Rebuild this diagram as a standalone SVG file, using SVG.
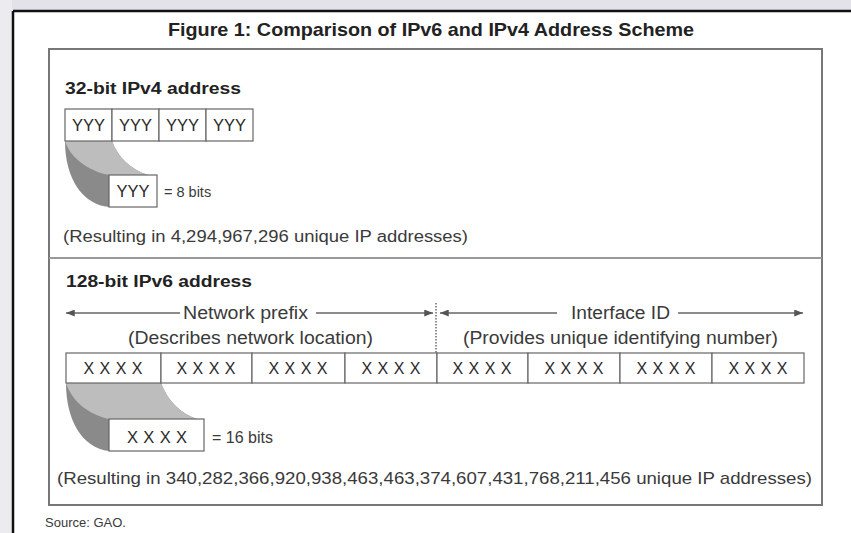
<svg xmlns="http://www.w3.org/2000/svg" width="851" height="533" viewBox="0 0 851 533">
<style>
.t{font-family:"Liberation Sans",Arial,sans-serif;fill:#3a3a3a}
.b{font-family:"Liberation Sans",Arial,sans-serif;font-weight:bold;fill:#222}
.cell{fill:#fff;stroke:#666;stroke-width:1.2}
.ct{font-family:"Liberation Sans",Arial,sans-serif;fill:#2a2a2a;text-anchor:middle}
.ln{stroke:#666;stroke-width:1.5;fill:none}
.dark{fill:#8a8a8a}
.light{fill:#bdbdbd}
</style>
<defs>
<marker id="ah" viewBox="0 0 10 8" refX="10" refY="4" markerWidth="10" markerHeight="7" markerUnits="userSpaceOnUse" orient="auto-start-reverse">
<path d="M0,0 L10,4 L0,8 Z" fill="#555"/>
</marker>
</defs>
<rect width="851" height="533" fill="#fff"/>
<rect x="0" y="0" width="851" height="10" fill="#e2e2e8"/>
<rect x="0" y="0" width="12" height="533" fill="#ececf0"/>
<line x1="13" y1="11" x2="851" y2="11" stroke="#111" stroke-width="2.5"/>
<line x1="13" y1="11" x2="13" y2="533" stroke="#111" stroke-width="2.5"/>
<text class="b" x="431" y="36" font-size="18.5" text-anchor="middle" textLength="526" lengthAdjust="spacingAndGlyphs">Figure 1:  Comparison of IPv6 and IPv4 Address Scheme</text>
<rect x="49" y="49" width="773" height="456" fill="#fff" stroke="#777" stroke-width="2"/>
<line x1="49" y1="258" x2="822" y2="258" stroke="#999" stroke-width="2"/>

<g id="ipv4">
<text class="b" x="65" y="94" font-size="16" textLength="176" lengthAdjust="spacingAndGlyphs">32-bit IPv4 address</text>
<path class="dark" d="M65,141 L112,141 C118,158 132,170 148,175 L109,175 L109,207 C84,205 65,180 65,141 Z"/>
<path class="light" d="M65,141 L112,141 C118,158 132,170 148,175 L109,175 C92,172 71,160 65,141 Z"/>
<g id="v4cells">
<rect class="cell" x="65" y="109" width="47" height="32"/>
<rect class="cell" x="112" y="109" width="47" height="32"/>
<rect class="cell" x="159" y="109" width="47" height="32"/>
<rect class="cell" x="206" y="109" width="47" height="32"/>
<text class="ct" x="88.5" y="131" font-size="17" textLength="33" lengthAdjust="spacingAndGlyphs">YYY</text>
<text class="ct" x="135.5" y="131" font-size="17" textLength="33" lengthAdjust="spacingAndGlyphs">YYY</text>
<text class="ct" x="182.5" y="131" font-size="17" textLength="33" lengthAdjust="spacingAndGlyphs">YYY</text>
<text class="ct" x="229.5" y="131" font-size="17" textLength="33" lengthAdjust="spacingAndGlyphs">YYY</text>
</g>
<g id="v4byte">
<rect class="cell" x="109" y="175" width="48" height="32"/>
<text class="ct" x="133" y="197" font-size="17" textLength="33" lengthAdjust="spacingAndGlyphs">YYY</text>
<text class="t" x="164" y="197" font-size="14.5">= 8 bits</text>
</g>
<text class="t" x="63" y="242" font-size="16" textLength="405" lengthAdjust="spacingAndGlyphs">(Resulting in 4,294,967,296 unique IP addresses)</text>
</g>

<g id="ipv6">
<text class="b" x="66" y="287" font-size="16" textLength="186" lengthAdjust="spacingAndGlyphs">128-bit IPv6 address</text>
<g id="connectors">
<line class="ln" x1="66" y1="313" x2="180" y2="313" marker-start="url(#ah)"/>
<line class="ln" x1="316" y1="313" x2="433" y2="313" marker-end="url(#ah)"/>
<line class="ln" x1="440" y1="313" x2="557" y2="313" marker-start="url(#ah)"/>
<line class="ln" x1="678" y1="313" x2="803" y2="313" marker-end="url(#ah)"/>
<line x1="436" y1="303" x2="436" y2="353" stroke="#555" stroke-width="1.3" stroke-dasharray="1.5,1.5"/>
</g>
<text class="t" x="245.5" y="319" font-size="18" text-anchor="middle" textLength="125" lengthAdjust="spacingAndGlyphs">Network prefix</text>
<text class="t" x="620.5" y="319" font-size="18" text-anchor="middle" textLength="99" lengthAdjust="spacingAndGlyphs">Interface ID</text>
<text class="t" x="250.5" y="344" font-size="17.5" text-anchor="middle" textLength="245" lengthAdjust="spacingAndGlyphs">(Describes network location)</text>
<text class="t" x="620.5" y="344" font-size="17.5" text-anchor="middle" textLength="315" lengthAdjust="spacingAndGlyphs">(Provides unique identifying number)</text>
<path class="dark" d="M66,383 L161,383 C168,402 182,414 197,419 L109,419 L109,451 C82,448 66,420 66,383 Z"/>
<path class="light" d="M66,383 L161,383 C168,402 182,414 197,419 L109,419 C90,415 72,402 66,383 Z"/>
<g id="v6cells">
<rect class="cell" x="66" y="353" width="95" height="30"/>
<rect class="cell" x="161" y="353" width="91" height="30"/>
<rect class="cell" x="252" y="353" width="93" height="30"/>
<rect class="cell" x="345" y="353" width="92" height="30"/>
<rect class="cell" x="437" y="353" width="91" height="30"/>
<rect class="cell" x="528" y="353" width="92" height="30"/>
<rect class="cell" x="620" y="353" width="92" height="30"/>
<rect class="cell" x="712" y="353" width="92" height="30"/>
<text class="ct" x="113" y="374" font-size="16" textLength="59" lengthAdjust="spacing">XXXX</text>
<text class="ct" x="206" y="374" font-size="16" textLength="59" lengthAdjust="spacing">XXXX</text>
<text class="ct" x="298" y="374" font-size="16" textLength="59" lengthAdjust="spacing">XXXX</text>
<text class="ct" x="391" y="374" font-size="16" textLength="59" lengthAdjust="spacing">XXXX</text>
<text class="ct" x="482" y="374" font-size="16" textLength="59" lengthAdjust="spacing">XXXX</text>
<text class="ct" x="574" y="374" font-size="16" textLength="59" lengthAdjust="spacing">XXXX</text>
<text class="ct" x="666" y="374" font-size="16" textLength="59" lengthAdjust="spacing">XXXX</text>
<text class="ct" x="758" y="374" font-size="16" textLength="59" lengthAdjust="spacing">XXXX</text>
</g>
<g id="v6block">
<rect class="cell" x="109" y="419" width="95" height="32"/>
<text class="ct" x="157" y="443" font-size="16.5" textLength="60" lengthAdjust="spacing">XXXX</text>
<text class="t" x="212" y="443" font-size="16">= 16 bits</text>
</g>
<text class="t" x="57" y="484" font-size="17" textLength="755" lengthAdjust="spacingAndGlyphs">(Resulting in 340,282,366,920,938,463,463,374,607,431,768,211,456 unique IP addresses)</text>
</g>
<text class="t" x="45" y="527" font-size="13" fill="#333">Source: GAO.</text>
</svg>
